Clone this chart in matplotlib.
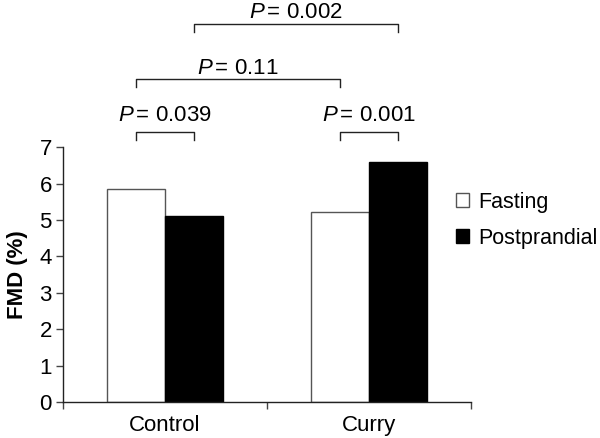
import numpy as np
import matplotlib
matplotlib.use("Agg")
import matplotlib.pyplot as plt

plt.rcParams["font.family"] = ["Liberation Sans", "DejaVu Sans"]
plt.rcParams["mathtext.fontset"] = "custom"
plt.rcParams["mathtext.it"] = "Liberation Sans:italic"
plt.rcParams["mathtext.rm"] = "Liberation Sans"

groups = ["Control", "Curry"]
series = ["Fasting", "Postprandial"]
fasting = [5.85, 5.22]
postprandial = [5.12, 6.60]

# (left bar, right bar, text)
comparisons = [
    ((0, 0), (0, 1), "0.039"),
    ((1, 0), (1, 1), "0.001"),
    ((0, 0), (1, 0), "0.11"),
    ((0, 1), (1, 1), "0.002"),
]
bracket_levels = [7.41, 7.41, 8.87, 10.38]
label_levels = [7.88, 7.88, 9.17, 10.69]

fig = plt.figure(figsize=(6.0, 4.38), dpi=100)
ax = fig.add_axes([0.105, 0.082, 0.68, 0.582])

width = 0.284
x = np.arange(len(groups)) + 0.5
ax.bar(x - width / 2, fasting, width, color="white", edgecolor="#555555",
       linewidth=1.0, label=series[0])
ax.bar(x + width / 2, postprandial, width, color="black", edgecolor="black",
       linewidth=1.0, label=series[1])

ax.set_xlim(0, 2)
ax.set_ylim(0, 7)
ax.set_yticks(range(8))
ax.set_xticks([0, 1, 2])
ax.set_xticklabels([])
ax.set_xticks(x, minor=True)
ax.set_xticklabels(groups, minor=True)
ax.tick_params(axis="x", which="minor", length=0, pad=9, labelsize=16)
ax.tick_params(axis="x", which="major", length=5, width=1, color="#444444")
ax.tick_params(axis="y", length=5, width=1, color="#444444", labelsize=16, pad=3)
for s in ["top", "right"]:
    ax.spines[s].set_visible(False)
for s in ["left", "bottom"]:
    ax.spines[s].set_color("#222222")
    ax.spines[s].set_linewidth(1.0)

ax.set_ylabel("FMD (%)", fontsize=16, fontweight="bold", labelpad=8)

def bar_x(g, k):
    return x[g] + (k - 0.5) * width

drop = 0.22
for (a, b, txt), lvl, tl in zip(comparisons, bracket_levels, label_levels):
    x1, x2 = bar_x(*a), bar_x(*b)
    ax.plot([x1, x1, x2, x2], [lvl - drop, lvl, lvl, lvl - drop],
            color="#222222", linewidth=1.0, clip_on=False)
    ax.text((x1 + x2) / 2, tl, r"$\mathit{P}\,$= " + txt,
            ha="center", va="center", fontsize=16, clip_on=False)

ax.legend(loc="center left", bbox_to_anchor=(0.745, 0.497),
          bbox_transform=fig.transFigure, frameon=False, fontsize=15.5,
          handlelength=0.63, handleheight=0.63, handletextpad=0.4,
          labelspacing=0.7, borderaxespad=0)

fig.savefig("out.png", dpi=100)
